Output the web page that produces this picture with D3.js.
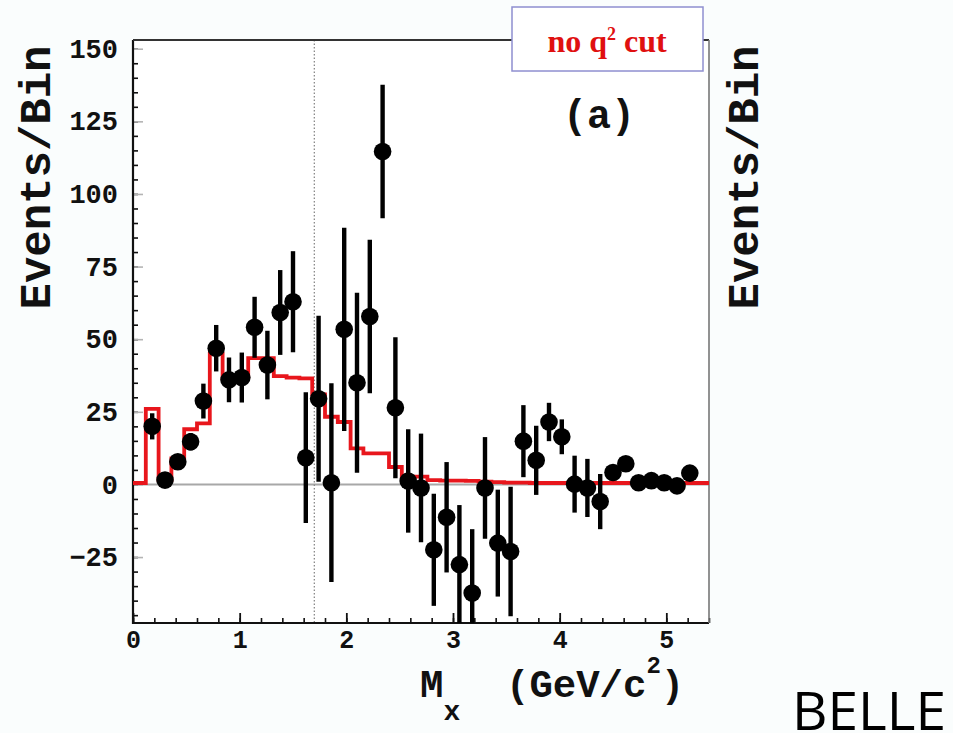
<!DOCTYPE html>
<html>
<head>
<meta charset="utf-8">
<script src="https://cdn.jsdelivr.net/npm/d3@7/dist/d3.min.js"></script>
<style>
  html, body { margin: 0; padding: 0; background: #fafdfd; }
  svg { display: block; }
</style>
</head>
<body>
<script>
// Bin centres of the measured points (GeV/c^2)
const pointMass = [0.18, 0.30, 0.42, 0.54, 0.66, 0.78, 0.90, 1.02, 1.14, 1.26,
  1.38, 1.50, 1.62, 1.74, 1.86, 1.98, 2.10, 2.22, 2.34, 2.46,
  2.58, 2.70, 2.82, 2.94, 3.06, 3.18, 3.30, 3.42, 3.54, 3.66,
  3.78, 3.90, 4.02, 4.14, 4.26, 4.38, 4.50, 4.62, 4.74, 4.86,
  4.98, 5.10, 5.22];
// Signal yield per bin
const pointEvents = [20, 1.5, 7.8, 14.7, 28.7, 46.9, 36, 36.8, 54.1, 41.1,
  59.2, 62.9, 9.2, 29.5, 0.6, 53.4, 35, 57.8, 114.6, 26.4,
  1.2, -1.2, -22.5, -11.3, -27.6, -37.4, -1.2, -20.2, -23.1, 14.9,
  8.3, 21.5, 16.4, 0.1, -1.2, -5.9, 4.1, 7.1, 0.6, 1.3,
  0.6, -0.5, 3.9];
// Statistical error on each yield
const pointError = [4.5, 2, 2.5, 3, 6, 8, 7.7, 8.6, 10.5, 11.8,
  14.6, 17.4, 22.5, 28.6, 34.2, 35, 31, 26.4, 23, 24.3,
  17.8, 18.7, 19.3, 19, 20.5, 22, 17.5, 18.4, 22.3, 12.4,
  11.9, 6.6, 6, 9.8, 10, 9.5, 2, 2, 2, 2,
  2, 2, 2];
// Lower edges of the expectation histogram bins, plus the final upper edge
const histEdges = [0.00, 0.12, 0.24, 0.36, 0.48, 0.60, 0.72, 0.84, 0.96, 1.08,
  1.20, 1.32, 1.44, 1.56, 1.68, 1.80, 1.92, 2.04, 2.16, 2.28,
  2.40, 2.52, 2.64, 2.76, 2.88, 3.00, 3.12, 3.24, 3.36, 3.48,
  3.60, 3.72, 3.84, 3.96, 4.08, 4.20, 4.32, 4.44, 4.56, 4.68,
  4.80, 4.92, 5.04, 5.16, 5.28, 5.40];
// Expected yield per histogram bin
const histEvents = [0.5, 26, 1.5, 9, 19, 21, 45, 36.5, 37, 43.5,
  43.5, 37.3, 36.8, 36.5, 31, 23.3, 21.5, 12.4, 10.7, 10.7,
  6, 2.7, 2.7, 1.5, 1.3, 1.3, 1.2, 1.0, 0.8, 0.6,
  0.6, 0.5, 0.5, 0.5, 0.5, 0.5, 0.5, 0.5, 0.5, 0.5,
  0.5, 0.5, 0.5, 0.5, 0.5];
const xTickValues = [0, 1, 2, 3, 4, 5];
const yTickValues = [-25, 0, 25, 50, 75, 100, 125, 150];
const cutMass = 1.7;

const W = 953, H = 733;
const plot = { left: 133, top: 40, right: 709, bottom: 623 };

const svg = d3.select("body").append("svg")
  .attr("width", W).attr("height", H);

const x = d3.scaleLinear().domain([0, 5.4]).range([plot.left, plot.right]);
const y = d3.scaleLinear().domain([-47.7, 153]).range([plot.bottom, plot.top]);

svg.append("rect")
  .attr("x", plot.left).attr("y", plot.top)
  .attr("width", plot.right - plot.left).attr("height", plot.bottom - plot.top)
  .attr("fill", "#ffffff");

svg.append("defs").append("clipPath").attr("id", "plotClip")
  .append("rect")
  .attr("x", plot.left).attr("y", plot.top)
  .attr("width", plot.right - plot.left).attr("height", plot.bottom - plot.top);

const mono = "'Liberation Mono', 'DejaVu Sans Mono', monospace";

// Zero line
svg.append("line")
  .attr("x1", plot.left).attr("x2", plot.right)
  .attr("y1", y(0)).attr("y2", y(0))
  .attr("stroke", "#a8a8a8").attr("stroke-width", 2);

// Dotted marker of the mass cut
svg.append("line")
  .attr("x1", x(cutMass)).attr("x2", x(cutMass))
  .attr("y1", plot.top).attr("y2", plot.bottom)
  .attr("stroke", "#8a8a8a").attr("stroke-width", 1.3)
  .attr("stroke-dasharray", "1.5,2");

// Minor ticks on the y axis
const yMinor = svg.append("g").attr("transform", `translate(${plot.left},0)`)
  .call(d3.axisLeft(y).tickValues(d3.range(-45, 151, 5)).tickSize(-5).tickFormat(""));
yMinor.select(".domain").remove();
yMinor.selectAll("line").attr("stroke", "#111").attr("stroke-width", 1.6);

// Major ticks and labels on the y axis
const yAxis = svg.append("g").attr("transform", `translate(${plot.left},0)`)
  .call(d3.axisLeft(y).tickValues(yTickValues).tickSize(-10).tickPadding(15));
yAxis.select(".domain").remove();
yAxis.selectAll("line").attr("stroke", "#b4b4b4").attr("stroke-width", 1.6);
yAxis.selectAll("text")
  .attr("font-family", mono).attr("font-size", 27).attr("font-weight", "bold")
  .attr("fill", "#111");

// Minor ticks on the x axis
const xMinor = svg.append("g").attr("transform", `translate(0,${plot.bottom})`)
  .call(d3.axisBottom(x).tickValues(d3.range(0, 5.41, 0.2)).tickSize(-5).tickFormat(""));
xMinor.select(".domain").remove();
xMinor.selectAll("line").attr("stroke", "#111").attr("stroke-width", 1.6);

// Major ticks and labels on the x axis
const xAxis = svg.append("g").attr("transform", `translate(0,${plot.bottom})`)
  .call(d3.axisBottom(x).tickValues(xTickValues).tickSize(-10).tickPadding(7).tickFormat(d3.format("d")));
xAxis.select(".domain").remove();
xAxis.selectAll("line").attr("stroke", "#111").attr("stroke-width", 1.8);
xAxis.selectAll("text")
  .attr("font-family", mono).attr("font-size", 25).attr("font-weight", "bold")
  .attr("fill", "#111");

// Frame
svg.append("line").attr("x1", plot.left).attr("x2", plot.left)
  .attr("y1", plot.top).attr("y2", plot.bottom + 1)
  .attr("stroke", "#111").attr("stroke-width", 2.2);
svg.append("line").attr("x1", plot.left).attr("x2", plot.right)
  .attr("y1", plot.bottom).attr("y2", plot.bottom)
  .attr("stroke", "#111").attr("stroke-width", 2.2);
svg.append("line").attr("x1", plot.left).attr("x2", plot.right)
  .attr("y1", plot.top).attr("y2", plot.top)
  .attr("stroke", "#333").attr("stroke-width", 2);
svg.append("line").attr("x1", plot.right).attr("x2", plot.right)
  .attr("y1", plot.top).attr("y2", plot.bottom)
  .attr("stroke", "#777").attr("stroke-width", 1.6);

const marks = svg.append("g").attr("clip-path", "url(#plotClip)");

// Expectation histogram
const histPts = histEvents.map((v, i) => [histEdges[i], v]);
histPts.push([histEdges[histEdges.length - 1], histEvents[histEvents.length - 1]]);
marks.append("path")
  .datum(histPts)
  .attr("d", d3.line().x(d => x(d[0])).y(d => y(d[1])).curve(d3.curveStepAfter))
  .attr("fill", "none").attr("stroke", "#e8161c").attr("stroke-width", 3.8);

// Error bars
const pts = pointMass.map((m, i) => ({ m, v: pointEvents[i], e: pointError[i] }));
marks.selectAll(".err").data(pts).enter().append("line")
  .attr("x1", d => x(d.m)).attr("x2", d => x(d.m))
  .attr("y1", d => y(d.v + d.e)).attr("y2", d => y(d.v - d.e))
  .attr("stroke", "#000").attr("stroke-width", 4.4);

// Data points
marks.selectAll(".pt").data(pts).enter().append("circle")
  .attr("cx", d => x(d.m)).attr("cy", d => y(d.v)).attr("r", 8.8)
  .attr("fill", "#000");

// Axis titles
svg.append("text")
  .attr("transform", `translate(50,${(plot.top + 315) / 2}) rotate(-90)`)
  .attr("text-anchor", "middle")
  .attr("font-family", mono).attr("font-size", 44).attr("font-weight", "bold")
  .attr("fill", "#111").text("Events/Bin");
svg.append("text")
  .attr("transform", `translate(758,${(plot.top + 315) / 2}) rotate(-90)`)
  .attr("text-anchor", "middle")
  .attr("font-family", mono).attr("font-size", 44).attr("font-weight", "bold")
  .attr("fill", "#111").text("Events/Bin");

const xTitle = svg.append("text")
  .attr("x", 420).attr("y", 697)
  .attr("font-family", mono).attr("font-size", 39).attr("font-weight", "bold")
  .attr("fill", "#111");
xTitle.append("tspan").text("M");
xTitle.append("tspan").attr("font-size", 28).attr("dy", 23).text("x");
xTitle.append("tspan").attr("x", 506).attr("dy", -23).text("(GeV/c");
xTitle.append("tspan").attr("font-size", 24).attr("dy", -24).text("2");
xTitle.append("tspan").attr("dy", 24).text(")");

// Panel tag
svg.append("text")
  .attr("x", 599).attr("y", 128).attr("text-anchor", "middle")
  .attr("font-family", mono).attr("font-size", 40).attr("font-weight", "bold")
  .attr("fill", "#111").text("(a)");

// Selection note
svg.append("rect")
  .attr("x", 512).attr("y", 7).attr("width", 191).attr("height", 64)
  .attr("fill", "#ffffff").attr("stroke", "#8f8fd0").attr("stroke-width", 1.5);
const note = svg.append("text")
  .attr("x", 607).attr("y", 52).attr("text-anchor", "middle")
  .attr("font-family", "'Liberation Serif', 'Times New Roman', serif")
  .attr("font-size", 32).attr("font-weight", "bold").attr("fill", "#e01010");
note.append("tspan").text("no q");
note.append("tspan").attr("font-size", 18).attr("dy", -12).text("2");
note.append("tspan").attr("dy", 12).text(" cut");

// Experiment name
svg.append("text")
  .attr("x", 946).attr("y", 730).attr("text-anchor", "end")
  .attr("font-family", "'Open Sans', 'DejaVu Sans', sans-serif")
  .attr("font-size", 53).attr("font-weight", 400)
  .attr("textLength", 154).attr("lengthAdjust", "spacingAndGlyphs")
  .attr("fill", "#000").text("BELLE");
</script>
</body>
</html>
